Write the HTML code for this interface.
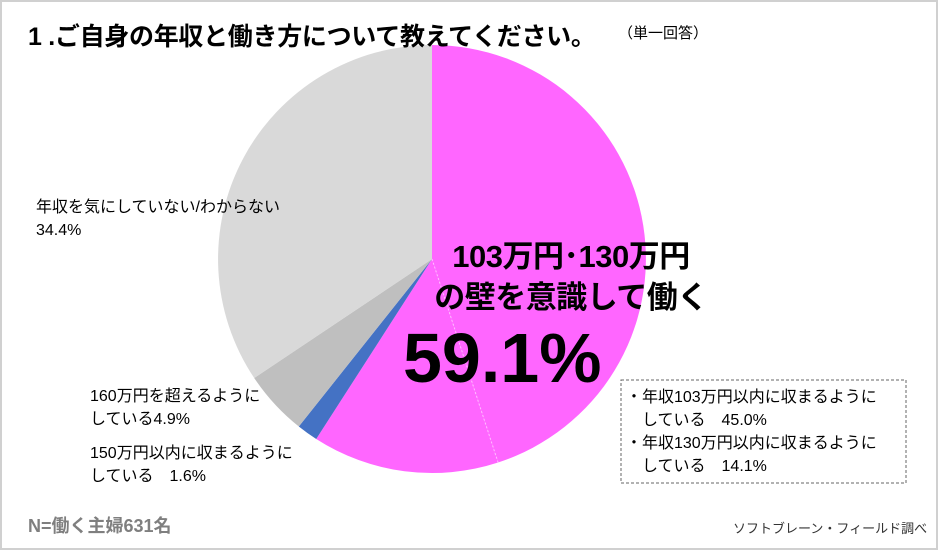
<!DOCTYPE html>
<html><head><meta charset="utf-8"><style>
body{margin:0;background:#fff;}
.wrap{position:relative;width:940px;height:552px;overflow:hidden;font-family:"Liberation Sans","Noto Sans CJK JP",sans-serif;}
.t{position:absolute;white-space:nowrap;color:#000;}
</style></head><body><div class="wrap">
<svg width="940" height="552" style="position:absolute;left:0;top:0">
<rect x="1" y="1" width="936" height="548" fill="#fff" stroke="#d0d0d0" stroke-width="2"/>
<g transform="translate(432,259)">
<path d="M0,0 L0,-214 A214,214 0 0 1 66.1,203.5 Z" fill="#ff66ff"/>
<path d="M0,0 L66.1,203.5 A214,214 0 0 1 -115.8,180 Z" fill="#ff66ff"/>
<line x1="0" y1="0" x2="66.1" y2="203.5" stroke="#ffc0ff" stroke-width="1" stroke-dasharray="2,2"/>
<path d="M0,0 L-115.8,180 A214,214 0 0 1 -133.2,167.5 Z" fill="#4472c4"/>
<path d="M0,0 L-133.2,167.5 A214,214 0 0 1 -177.8,119 Z" fill="#bfbfbf"/>
<path d="M0,0 L-177.8,119 A214,214 0 0 1 0,-214 Z" fill="#d9d9d9"/>
</g>
<rect x="621" y="380" width="285" height="103" fill="#fff" stroke="#666" stroke-dasharray="3,2"/>
</svg>
<div class="t" style="left:28px;top:17px;font-size:25px;font-weight:bold;letter-spacing:-0.3px">1 .ご自身の年収と働き方について教えてください。</div>
<div class="t" style="left:618px;top:22px;font-size:15px">（単一回答）</div>
<div class="t" style="left:36px;top:196px;font-size:16px;line-height:23px">年収を気にしていない/わからない<br>34.4%</div>
<div class="t" style="left:430px;top:236px;font-size:31px;font-weight:bold;line-height:41px;text-align:center;width:282px;letter-spacing:-0.5px">103万円･130万円<br>の壁を意識して働く</div>
<div class="t" style="left:403px;top:318px;font-size:70px;font-weight:bold">59.1%</div>
<div class="t" style="left:90px;top:385px;font-size:16px;line-height:23px">160万円を超えるように<br>している4.9%</div>
<div class="t" style="left:90px;top:442px;font-size:16px;line-height:23px">150万円以内に収まるように<br>している　1.6%</div>
<div class="t" style="left:626px;top:386px;font-size:16px;line-height:23px">・年収103万円以内に収まるように<br>　している　45.0%<br>・年収130万円以内に収まるように<br>　している　14.1%</div>
<div class="t" style="left:28px;top:512px;font-size:18px;font-weight:bold;color:#7f7f7f">N=働く主婦631名</div>
<div class="t" style="left:733px;top:518px;font-size:13px;color:#333">ソフトブレーン・フィールド調べ</div>
</div></body></html>
